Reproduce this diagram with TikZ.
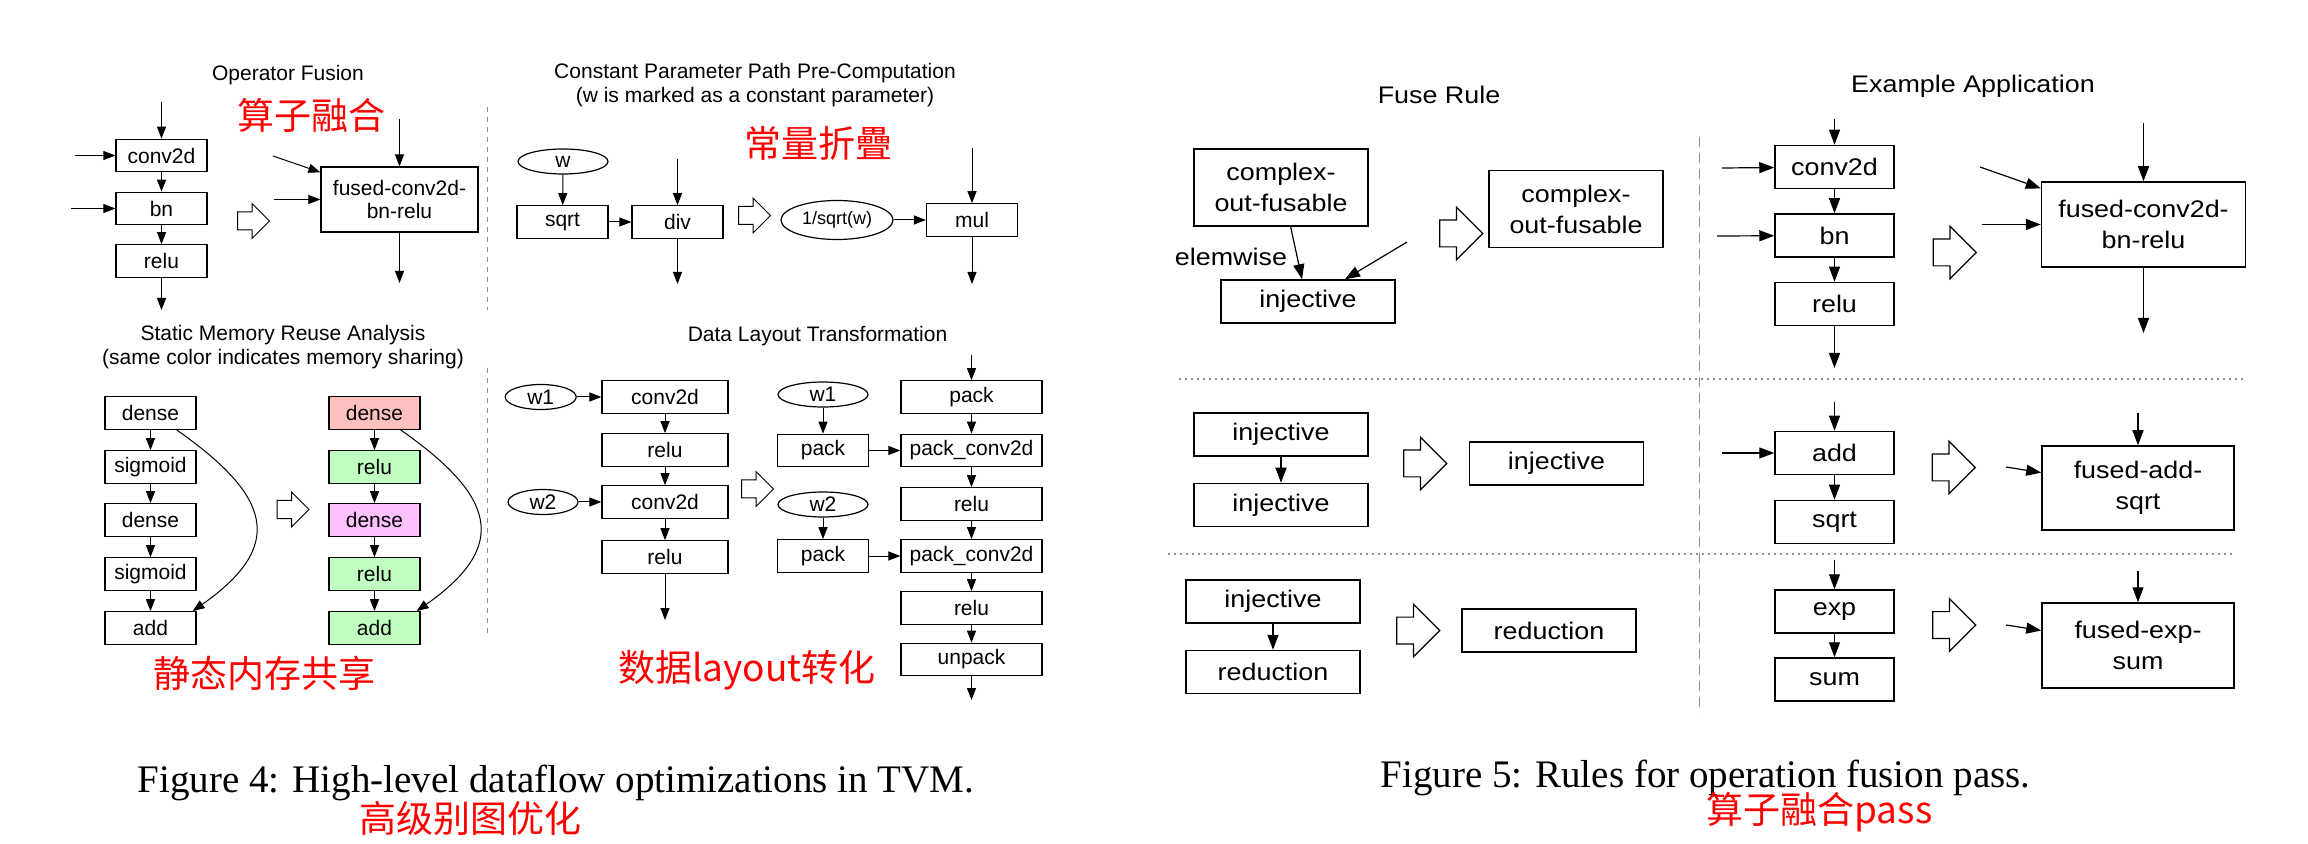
\documentclass[tikz,border=0pt]{standalone}
\usepackage{fontspec}
\setmainfont{Liberation Sans}
\newfontfamily\capfont{Liberation Serif}
\newfontfamily\widefont[FakeStretch=1.12]{Liberation Sans}
\newfontfamily\cjk{Noto Sans CJK SC}
\usetikzlibrary{arrows.meta}
\usetikzlibrary{shapes.geometric,shapes.arrows}
\definecolor{memred}{RGB}{255,192,192}
\definecolor{memgreen}{RGB}{192,255,192}
\definecolor{mempink}{RGB}{255,192,255}
\definecolor{sepgray}{RGB}{140,140,140}
\tikzstyle{op} = [draw, line width=0.6pt, inner sep=0pt, minimum width=45.5pt, minimum height=16.25pt, align=center, font=\fontsize{10.5}{11.5}\selectfont]
\tikzstyle{opw} = [op, minimum width=63pt]
\tikzstyle{opx} = [op, minimum width=70.5pt]
\tikzstyle{prm} = [draw, ellipse, line width=0.6pt, inner sep=0pt, minimum width=45pt, minimum height=12.5pt, font=\fontsize{10.5}{11.5}\selectfont]
\tikzstyle{rop} = [draw, line width=0.75pt, inner sep=0pt, minimum width=87pt, minimum height=21.5pt, align=center, font=\widefont\fontsize{12}{15.5}\selectfont]
\tikzstyle{ttl} = [align=center, font=\fontsize{10.5}{12}\selectfont]
\tikzstyle{rttl} = [font=\widefont\fontsize{12}{14}\selectfont]
\tikzstyle{figcap} = [font=\capfont\fontsize{19.5}{22}\selectfont]
\tikzstyle{zh} = [text=red, font=\cjk\fontsize{18.5}{20}\selectfont]
\tikzstyle{fat} = [draw, single arrow, single arrow head extend=4.25pt, minimum height=16pt, inner sep=0pt, inner ysep=4.25pt, line width=0.5pt]
\tikzstyle{rfat} = [fat, single arrow head extend=6.4pt, minimum height=21.5pt, inner ysep=6.4pt, line width=0.6pt]
\tikzstyle{flo} = [style={->,>={Triangle[length=6pt,width=4.5pt]},line width=0.5pt}]
\tikzstyle{rflo} = [style={->,>={Triangle[length=7.5pt,width=5.5pt]},line width=0.6pt}]
\tikzstyle{vsep} = [sepgray, dash pattern=on 2.5pt off 2.5pt, line width=0.5pt]
\tikzstyle{rvsep} = [sepgray, dash pattern=on 5pt off 3pt, line width=0.6pt]
\tikzstyle{hdots} = [sepgray, dash pattern=on 1pt off 2pt, line width=0.6pt]

\begin{document}
\begin{tikzpicture}[x=0.5pt,y=-0.5pt]
        \fill[white] (0,0) rectangle (2308,844);
        \useasboundingbox (0,0) rectangle (2308,844);
        \draw[vsep] (487,107) -- (487,310);
        \draw[vsep] (487,368) -- (487,633);
        \draw[rvsep] (1699.5,137) -- (1699.5,713);
        \draw[hdots] (1179,379) -- (2245,379);
        \draw[hdots] (1168,554) -- (2234,554);

        \node[ttl] (tof) at (288,75) {Operator Fusion};
        \node[zh] (zof) at (311,115) {算子融合};
        \node[op] (cv) at (161.5,155.5) {conv2d};
        \node[op] (bn) at (161.5,208.5) {bn};
        \node[op] (re) at (161.5,261) {relu};
        \coordinate (cvin) at (161.5,102);
        \coordinate (cvl) at (75,155.5);
        \coordinate (bnl) at (71,208.5);
        \coordinate (reo) at (161.5,310);
        \node[fat] (fa1) at (249,221) {};
        \node[op, minimum width=78.5pt, minimum height=32.5pt] (fu) at (399.5,199.5) {fused-conv2d-\\bn-relu};
        \coordinate (fuin) at (399.5,119);
        \coordinate (fud) at (273,156);
        \coordinate (fuh) at (274,199.5);
        \coordinate (fuo) at (399.5,283);
        \draw (cvin) edge[flo] (cv) (cvl) edge[flo] (cv) (bnl) edge[flo] (bn);
        \draw (cv) edge[flo] (bn) (bn) edge[flo] (re) (re) edge[flo] (reo);
        \draw (fuin) edge[flo] (fu) (fud) edge[flo] (fu) (fuh) edge[flo] (fu) (fu) edge[flo] (fuo);

        \node[ttl] (tcp) at (755,85) {Constant Parameter Path Pre-Computation\\(w is marked as a constant parameter)};
        \node[zh] (zcp) at (818,143) {常量折疊};
        \node[prm] (w) at (563,161.5) {w};
        \node[op] (sq) at (562.5,222) {sqrt};
        \node[op] (dv) at (677.5,222) {div};
        \coordinate (dvin) at (677.5,159);
        \coordinate (dvo) at (677.5,284);
        \node[fat] (fa2) at (750,215.5) {};
        \node[prm, minimum width=56pt, minimum height=19.5pt, font=\fontsize{9}{10}\selectfont] (isq) at (837,220) {1/sqrt(w)};
        \node[op] (mu) at (972,220) {mul};
        \coordinate (muin) at (972,148);
        \coordinate (muo) at (972,284);
        \draw (w) edge[flo] (sq) (sq) edge[flo] (dv) (dvin) edge[flo] (dv) (dv) edge[flo] (dvo);
        \draw (isq) edge[flo] (mu) (muin) edge[flo] (mu) (mu) edge[flo] (muo);

        \node[ttl] (tsm) at (283,347) {Static Memory Reuse Analysis\\(same color indicates memory sharing)};
        \node[op] (d1) at (150.5,413) {dense};
        \node[op] (s1) at (150.5,467) {sigmoid};
        \node[op] (d2) at (150.5,520) {dense};
        \node[op] (s2) at (150.5,574) {sigmoid};
        \node[op] (ad) at (150.5,628) {add};
        \node[fat] (fa3) at (288.5,509.5) {};
        \node[op, fill=memred] (e1) at (374.5,413) {dense};
        \node[op, fill=memgreen] (e2) at (374.5,467) {relu};
        \node[op, fill=mempink] (e3) at (374.5,520) {dense};
        \node[op, fill=memgreen] (e4) at (374.5,574) {relu};
        \node[op, fill=memgreen] (e5) at (374.5,628) {add};
        \node[zh] (zsm) at (264,673) {静态内存共享};
        \draw (d1) edge[flo] (s1) (s1) edge[flo] (d2) (d2) edge[flo] (s2) (s2) edge[flo] (ad);
        \draw (e1) edge[flo] (e2) (e2) edge[flo] (e3) (e3) edge[flo] (e4) (e4) edge[flo] (e5);
        \draw[flo] ([xshift=-10pt]d1.south east) .. controls +(94,66) and +(94,-66) .. ([xshift=-2pt]ad.north east);
        \draw[flo] ([xshift=-10pt]e1.south east) .. controls +(94,66) and +(94,-66) .. ([xshift=-2pt]e5.north east);

        \node[ttl] (tdl) at (817.5,336) {Data Layout Transformation};
        \node[prm, minimum width=35.5pt] (w1) at (540.7,397) {w1};
        \node[opw] (k1) at (665,397) {conv2d};
        \node[opw] (k2) at (665,450) {relu};
        \node[prm, minimum width=35pt] (w2) at (543,502) {w2};
        \node[opw] (k3) at (665,502) {conv2d};
        \node[opw] (k4) at (665,557) {relu};
        \coordinate (k4o) at (665,620);
        \node[fat] (fa4) at (753,489) {};
        \node[prm] (pw1) at (823,394.5) {w1};
        \node[op] (p1) at (823,450.5) {pack};
        \node[prm] (pw2) at (823,504.5) {w2};
        \node[op] (p2) at (823,556) {pack};
        \node[opx] (q1) at (971.5,397) {pack};
        \node[opx] (q2) at (971.5,450.5) {pack\_conv2d};
        \node[opx] (q3) at (971.5,504) {relu};
        \node[opx] (q4) at (971.5,556) {pack\_conv2d};
        \node[opx] (q5) at (971.5,608) {relu};
        \node[opx] (q6) at (971.5,659.5) {unpack};
        \coordinate (q1in) at (971.5,355);
        \coordinate (q6o) at (971.5,700);
        \node[zh] (zdl) at (747,670) {数据layout转化};
        \draw (w1) edge[flo] (k1) (k1) edge[flo] (k2) (k2) edge[flo] (k3) (w2) edge[flo] (k3) (k3) edge[flo] (k4) (k4) edge[flo] (k4o);
        \draw (pw1) edge[flo] (p1) (pw2) edge[flo] (p2) (p1) edge[flo] (q2) (p2) edge[flo] (q4);
        \draw (q1in) edge[flo] (q1) (q1) edge[flo] (q2) (q2) edge[flo] (q3) (q3) edge[flo] (q4) (q4) edge[flo] (q5) (q5) edge[flo] (q6) (q6) edge[flo] (q6o);

        \node[figcap] (cap4) at (556,783) {Figure 4: High-level dataflow optimizations in TVM.};
        \node[zh] (zc4) at (470,818) {高级别图优化};

        \node[rttl] (tfr) at (1439,95) {Fuse Rule};
        \node[rttl] (tea) at (1973,86) {Example Application};
        \node[rop, minimum height=38.5pt] (cx) at (1281,187.5) {complex-\\out-fusable};
        \node[rop] (ij) at (1308,301.5) {injective};
        \node[rttl] (lbl) at (1231,257) {elemwise};
        \coordinate (ijd) at (1407,242);
        \node[rfat] (fb1) at (1454.5,233.5) {};
        \node[rop, minimum height=38.5pt] (cx2) at (1576,209) {complex-\\out-fusable};
        \draw ([xshift=4.8pt]cx.south) edge[rflo] ([xshift=-3pt]ij.north) (ijd) edge[rflo] (ij);

        \node[rop] (i1) at (1281,434.5) {injective};
        \node[rop] (i2) at (1281,505) {injective};
        \node[rfat] (fb2) at (1418.5,463.5) {};
        \node[rop] (i3) at (1556.5,463.5) {injective};
        \draw (i1) edge[rflo] (i2);

        \node[rop] (i4) at (1273,601.5) {injective};
        \node[rop] (rd) at (1273,672) {reduction};
        \node[rfat] (fb3) at (1411.5,630.5) {};
        \node[rop] (rd2) at (1549,630.5) {reduction};
        \draw (i4) edge[rflo] (rd);

        \node[rop, minimum width=59.5pt] (xc) at (1834.5,167) {conv2d};
        \node[rop, minimum width=59.5pt] (xb) at (1834.5,235.5) {bn};
        \node[rop, minimum width=59.5pt] (xr) at (1834.5,304) {relu};
        \coordinate (xcin) at (1834.5,119);
        \coordinate (xcl) at (1722,168);
        \coordinate (xbl) at (1717,236);
        \coordinate (xro) at (1834.5,368);
        \node[rfat] (fb4) at (1948,252.5) {};
        \node[rop, minimum width=102pt, minimum height=42.5pt] (g1) at (2143.5,224.5) {fused-conv2d-\\bn-relu};
        \coordinate (g1in) at (2143.5,123);
        \coordinate (g1d) at (1980,167);
        \coordinate (g1h) at (1981.6,224.5);
        \coordinate (g1o) at (2143.5,333);
        \draw (xcin) edge[rflo] (xc) (xcl) edge[rflo] (xc) (xbl) edge[rflo] (xb) (xc) edge[rflo] (xb) (xb) edge[rflo] (xr) (xr) edge[rflo] (xro);
        \draw (g1in) edge[rflo] (g1) (g1d) edge[rflo] (g1) (g1h) edge[rflo] (g1) (g1) edge[rflo] (g1o);

        \node[rop, minimum width=59.5pt] (xa) at (1834.5,453) {add};
        \node[rop, minimum width=59.5pt] (xs) at (1834.5,522) {sqrt};
        \coordinate (xain) at (1834.5,402);
        \coordinate (xal) at (1722,453);
        \node[rfat] (fb5) at (1947,467.5) {};
        \node[rop, minimum width=96pt, minimum height=42pt] (g2) at (2138,488) {fused-add-\\sqrt};
        \coordinate (g2in) at (2138,413);
        \coordinate (g2d) at (2006,467);
        \draw (xain) edge[rflo] (xa) (xal) edge[rflo] (xa) (xa) edge[rflo] (xs) (g2in) edge[rflo] (g2) (g2d) edge[rflo] (g2);

        \node[rop, minimum width=59.5pt] (xe) at (1834.5,611.5) {exp};
        \node[rop, minimum width=59.5pt] (xm) at (1834.5,679.5) {sum};
        \coordinate (xein) at (1834.5,560);
        \node[rfat] (fb6) at (1947.5,625) {};
        \node[rop, minimum width=96pt, minimum height=42.5pt] (g3) at (2138,645.5) {fused-exp-\\sum};
        \coordinate (g3in) at (2138,571);
        \coordinate (g3d) at (2006,625);
        \draw (xein) edge[rflo] (xe) (xe) edge[rflo] (xm) (g3in) edge[rflo] (g3) (g3d) edge[rflo] (g3);

        \node[figcap] (cap5) at (1705.5,778) {Figure 5: Rules for operation fusion pass.};
        \node[zh] (zc5) at (1819.5,812) {算子融合pass};
      \end{tikzpicture}
\end{document}
